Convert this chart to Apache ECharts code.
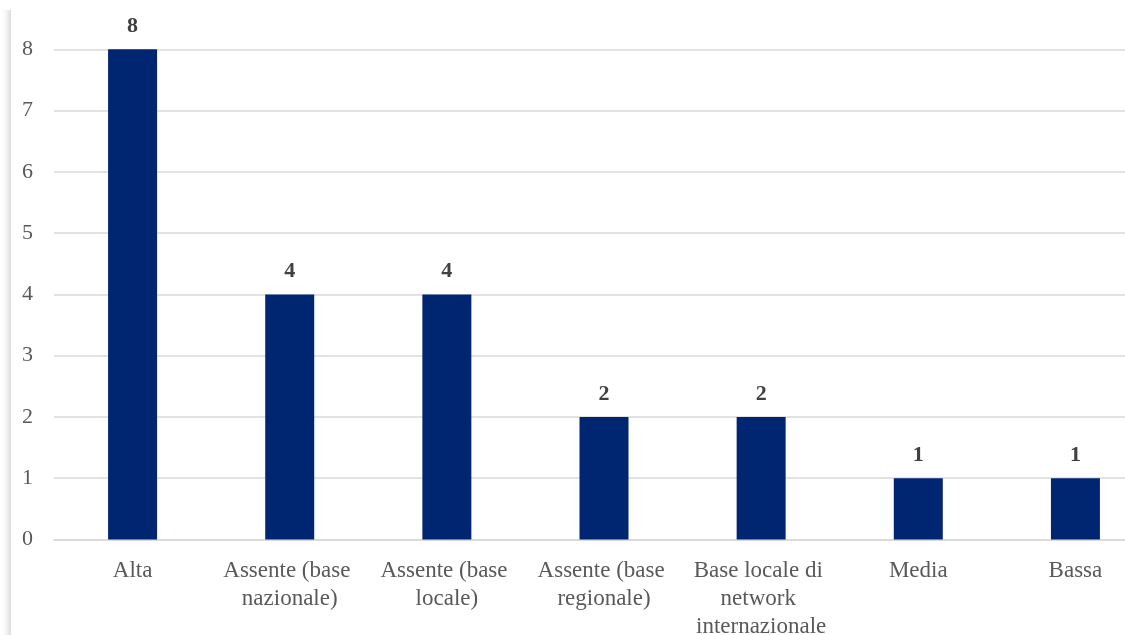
<!DOCTYPE html>
<html>
<head>
<meta charset="utf-8">
<script src="https://cdn.jsdelivr.net/npm/echarts@6/dist/echarts.min.js"></script>
<style>
  html, body { margin: 0; padding: 0; background: #ffffff; }
  #chart { width: 1125px; height: 635px; }
</style>
</head>
<body>
<div id="chart"></div>
<script>
// Categories and counts
const categories = [
  'Alta',
  'Assente (base nazionale)',
  'Assente (base locale)',
  'Assente (base regionale)',
  'Base locale di network internazionale',
  'Media',
  'Bassa'
];
const counts = [8, 4, 4, 2, 2, 1, 1];
const yTicks = [0, 1, 2, 3, 4, 5, 6, 7, 8];

const serif = '"Liberation Serif", "Times New Roman", serif';

const chart = echarts.init(document.getElementById('chart'), null, { renderer: 'canvas' });

chart.setOption({
  backgroundColor: '#ffffff',
  animation: false,
  graphic: [
    {
      // soft frame shadow along the left edge
      type: 'rect',
      left: 0,
      top: 10,
      shape: { width: 11, height: 625 },
      style: {
        fill: new echarts.graphic.LinearGradient(0, 0, 1, 0, [
          { offset: 0, color: 'rgba(255,255,255,0)' },
          { offset: 0.7, color: 'rgba(225,225,225,0.6)' },
          { offset: 1, color: 'rgba(215,215,215,0.9)' }
        ])
      },
      silent: true,
      z: -1
    }
  ],
  grid: {
    left: 54,
    top: 49.3,
    width: 1100,
    height: 490.2,
    containLabel: false,
    outerBoundsMode: 'none'
  },
  xAxis: {
    type: 'category',
    data: categories,
    axisLine: { show: true, lineStyle: { color: '#d9d9d9', width: 1.5 } },
    axisTick: { show: false },
    axisLabel: {
      interval: 0,
      margin: 17,
      color: '#595959',
      fontFamily: serif,
      fontSize: 23,
      lineHeight: 28,
      width: 150,
      overflow: 'break'
    }
  },
  yAxis: {
    type: 'value',
    min: yTicks[0],
    max: yTicks[yTicks.length - 1],
    interval: 1,
    axisLine: { show: false },
    axisTick: { show: false },
    splitLine: { lineStyle: { color: '#d9d9d9', width: 1.5 } },
    axisLabel: {
      margin: 21,
      color: '#595959',
      fontFamily: serif,
      fontSize: 22
    }
  },
  series: [
    {
      type: 'bar',
      data: counts,
      barWidth: 49,
      itemStyle: { color: '#002672' },
      label: {
        show: true,
        position: 'top',
        distance: 12,
        color: '#404040',
        fontFamily: serif,
        fontWeight: 'bold',
        fontSize: 22
      }
    }
  ]
});
</script>
</body>
</html>
